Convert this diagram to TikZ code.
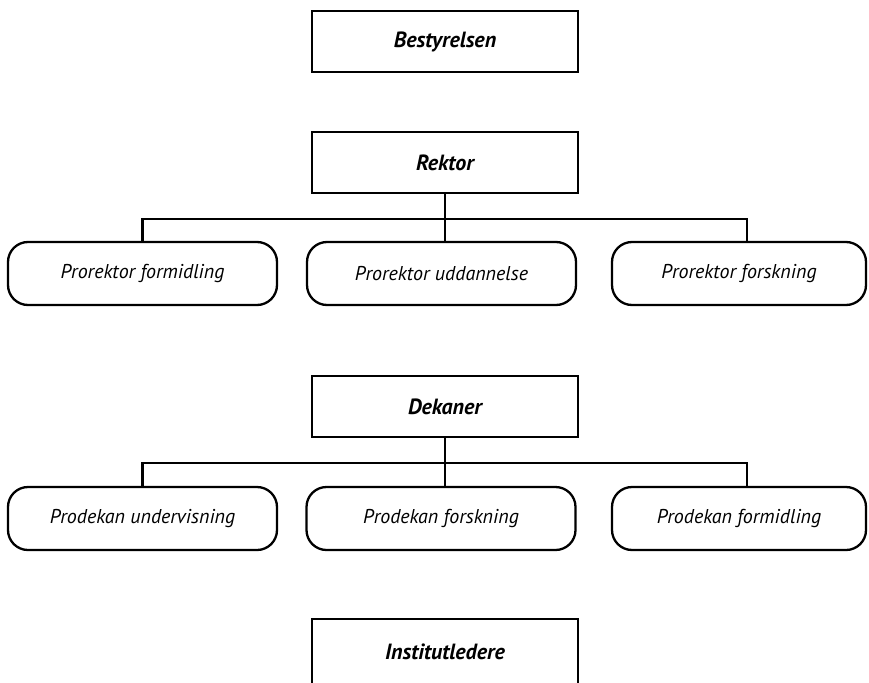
\documentclass[tikz,border=0pt]{standalone}
\usepackage{fontspec}
\setmainfont{PT Sans}
\usetikzlibrary{positioning}

\begin{document}
\begin{tikzpicture}[x=1pt,y=-1pt,line width=2.3pt,
  headbox/.style={draw,minimum width=266pt,minimum height=61pt,inner sep=0pt,
    font=\fontsize{22}{24}\selectfont\bfseries\itshape},
  subbox/.style={draw,rounded corners=20pt,minimum width=269pt,minimum height=63pt,
    inner sep=0pt,font=\fontsize{20}{24}\selectfont\itshape}]
\useasboundingbox (0,0) rectangle (869,682);
% Main boxes down the middle
\node[headbox] (best) at (445,41.5) {Bestyrelsen};
\node[headbox] (rektor) at (445,162.5) {Rektor};
\node[headbox] (dekan) at (445,406.5) {Dekaner};
\node[headbox,minimum height=65pt] (inst) at (445,651.5) {Institutledere};
% Prorektors under the rector
\node[subbox] (prof) at (142.5,273.5) {Prorektor formidling};
\node[subbox] (prou) at (441.5,273.5) {Prorektor uddannelse};
\node[subbox,minimum width=254pt] (profo) at (739,273.5) {Prorektor forskning};
% Prodekans under the deans
\node[subbox] (prdu) at (142.5,518.5) {Prodekan undervisning};
\node[subbox] (prdf) at (441,518.5) {Prodekan forskning};
\node[subbox,minimum width=254pt] (prdfo) at (739,518.5) {Prodekan formidling};
% Connect the rector to the prorektors
\draw (rektor.south) -- (rektor.south |- prou.north);
\path (rektor.south) -- ++(0,25) coordinate (bus1);
\draw (prof.north) |- (bus1) -| ([xshift=8pt]profo.north);
% Connect the deans to the prodekans
\draw (dekan.south) -- (dekan.south |- prdf.north);
\path (dekan.south) -- ++(0,25) coordinate (bus2);
\draw (prdu.north) |- (bus2) -| ([xshift=8pt]prdfo.north);
\end{tikzpicture}
\end{document}
